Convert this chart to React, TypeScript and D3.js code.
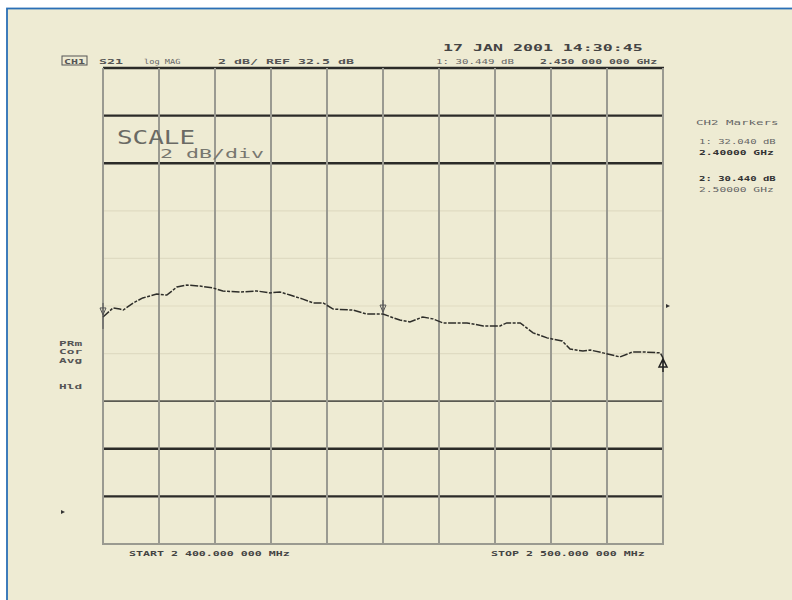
import * as d3 from 'd3';
import React, { useEffect, useRef } from 'react';

// trace readings: frequency in MHz, S21 in dB
const freqs = [2400, 2401.8, 2403.0, 2403.6, 2405.4, 2407.1, 2409.6, 2411.4, 2413.2, 2415.0,
  2417.3, 2419.6, 2421.4, 2424.5, 2427.5, 2429.8, 2431.6, 2433.4, 2435.7, 2437.5,
  2439.3, 2441.1, 2444.6, 2447.1, 2450.0, 2453.0, 2454.8, 2457.1, 2458.9, 2460.7,
  2465.0, 2467.9, 2470.9, 2472.1, 2474.5, 2476.8, 2479.3, 2482.0, 2483.4, 2485.7,
  2487.0, 2489.3, 2492.3, 2494.6, 2496.4, 2499.5, 2500];
const gains = [32.04, 32.42, 32.37, 32.33, 32.63, 32.84, 33.00, 32.96, 33.30, 33.38,
  33.34, 33.26, 33.13, 33.09, 33.13, 33.05, 33.09, 32.96, 32.79, 32.63,
  32.63, 32.37, 32.33, 32.16, 32.16, 31.91, 31.83, 32.04, 31.96, 31.79,
  31.79, 31.66, 31.66, 31.79, 31.79, 31.37, 31.16, 31.03, 30.69, 30.61,
  30.65, 30.53, 30.36, 30.57, 30.57, 30.53, 30.32];

const markerFreqs = [2400, 2450, 2500];
const headerLeft = ['S21', 'log MAG', '2 dB/ REF 32.5 dB'];
const headerRight = ['1: 30.449 dB', '2.450 000 000 GHz'];
const dateText = '17 JAN 2001  14:30:45';
const sideLabels = ['PRm', 'Cor', 'Avg', 'Hld'];
const markerPanel = ['CH2 Markers', '1: 32.040 dB', '2.40000 GHz', '2: 30.440 dB', '2.50000 GHz'];
const startText = 'START 2 400.000 000 MHz';
const stopText = 'STOP 2 500.000 000 MHz';

const W = 792, H = 600;

export default function App() {
  const ref = useRef<SVGSVGElement>(null);

  useEffect(() => {
    const svg = d3.select(ref.current);
    svg.selectAll('*').remove();

    const x = d3.scaleLinear().domain([2400, 2500]).range([103, 663]);
    const y = d3.scaleLinear().domain([22.5, 42.5]).range([544, 68]);
    const mono = '"DejaVu Sans Mono", monospace';

    // paper
    svg.append('rect').attr('width', W).attr('height', H).attr('fill', '#ffffff');
    svg.append('rect').attr('x', 7).attr('y', 8.5).attr('width', W).attr('height', H)
      .attr('fill', '#eeebd3').attr('stroke', '#2a6fb6').attr('stroke-width', 1.8);

    // grid
    const vLines = d3.range(0, 11).map(i => 2400 + i * 10);
    const hLines = d3.range(0, 11).map(i => 22.5 + i * 2);
    const hStyle = (i: number) => {
      // i counted from bottom
      if (i === 0) return { c: '#9a9a90', w: 2 };
      if (i === 1 || i === 2) return { c: '#2b2b28', w: 2.4 };
      if (i === 3) return { c: '#5a5a52', w: 1.8 };
      if (i >= 8) return { c: '#2b2b28', w: 2.4 };
      return { c: '#dfdbc2', w: 1.2 };
    };
    svg.append('g').selectAll('line').data(hLines).enter().append('line')
      .attr('x1', 103).attr('x2', 664)
      .attr('y1', d => y(d)).attr('y2', d => y(d))
      .attr('stroke', (d, i) => hStyle(i).c)
      .attr('stroke-width', (d, i) => hStyle(i).w);
    svg.append('g').selectAll('line').data(vLines).enter().append('line')
      .attr('x1', d => x(d)).attr('x2', d => x(d))
      .attr('y1', 68).attr('y2', 545)
      .attr('stroke', '#9a9a91').attr('stroke-width', 2);

    // trace
    const pts = freqs.map((f, i) => [f, gains[i]] as [number, number]);
    const line = d3.line<[number, number]>().x(d => x(d[0])).y(d => y(d[1]));
    svg.append('path').datum(pts).attr('d', line).attr('fill', 'none')
      .attr('stroke', '#2e2e2a').attr('stroke-width', 1.5).attr('stroke-dasharray', '8 1.5 3 1.5');

    // markers
    const g = svg.append('g');
    markerFreqs.forEach((f, i) => {
      const gi = freqs.indexOf(f);
      const px = x(f), py = y(gains[gi]);
      if (i < 2) {
        g.append('path')
          .attr('d', `M${px - 3},${py - 9} L${px + 3},${py - 9} L${px},${py - 2} Z M${px},${py - 14} L${px},${py + (i === 0 ? 12 : 0)}`)
          .attr('fill', 'none').attr('stroke', '#555').attr('stroke-width', 1);
      } else {
        g.append('path')
          .attr('d', `M${px},${py + 1} L${px + 4},${py + 9} L${px - 4},${py + 9} Z M${px},${py} L${px},${py + 14}`)
          .attr('fill', 'none').attr('stroke', '#222').attr('stroke-width', 1.5);
      }
    });

    // reference markers
    svg.append('path').attr('d', `M666,${y(32.5) - 2} l4,2 l-4,2 Z`).attr('fill', '#333');
    svg.append('path').attr('d', 'M61,510 l4,2 l-4,2 Z').attr('fill', '#333');

    // wide plotter-style text: glyphs stretched to a given advance per character
    const txt = (t: string, tx: number, ty: number, size: number, adv: number, weight = 'normal', fill = '#3a3a36') =>
      svg.append('text')
        .attr('transform', `translate(${tx},${ty}) scale(${adv / (0.602 * size)},1)`)
        .text(t)
        .style('font-family', mono).style('font-size', size + 'px')
        .style('font-weight', weight).attr('fill', fill);

    // header
    svg.append('rect').attr('x', 62).attr('y', 56).attr('width', 25).attr('height', 9)
      .attr('fill', 'none').attr('stroke', '#555').attr('stroke-width', 1);
    txt('CH1', 64, 64, 7, 7, 'bold', '#555');
    txt(headerLeft[0], 99, 64, 7.5, 8, 'bold', '#555');
    txt(headerLeft[1], 144, 64, 7, 5.2, 'normal', '#666');
    txt(headerLeft[2], 218, 64, 7.5, 8, 'bold', '#555');
    txt(dateText, 443, 51, 9, 10, 'bold', '#444');
    txt(headerRight[0], 436, 64, 7.5, 6.5, 'normal', '#666');
    txt(headerRight[1], 540, 64, 7.5, 6.9, 'bold', '#555');

    // scale annotation
    txt('SCALE', 117, 144, 19, 15.6, 'normal', '#6a6a64');
    txt('2  dB/div', 160, 158, 13, 13, 'normal', '#77776f');

    // left annotations
    const sideY = [346, 354, 363, 389];
    sideLabels.forEach((s, i) => txt(s, 59, sideY[i], 7, 7.7, 'bold', '#555'));

    // marker panel
    txt(markerPanel[0], 696, 125, 7.5, 7.5, 'normal', '#666');
    txt(markerPanel[1], 699, 144, 7.5, 6.4, 'normal', '#666');
    txt(markerPanel[2], 699, 155, 7.5, 6.8, 'bold', '#333');
    txt(markerPanel[3], 699, 181, 7.5, 6.4, 'bold', '#333');
    txt(markerPanel[4], 699, 192, 7.5, 6.8, 'normal', '#666');

    // start / stop
    txt(startText, 129, 556, 7.5, 7, 'bold', '#444');
    txt(stopText, 491, 556, 7.5, 7, 'bold', '#444');
  }, []);

  return (
    <div style={{ position: 'fixed', left: 0, top: 0 }}>
      <svg ref={ref} width={W} height={H} style={{ display: 'block' }} />
    </div>
  );
}
